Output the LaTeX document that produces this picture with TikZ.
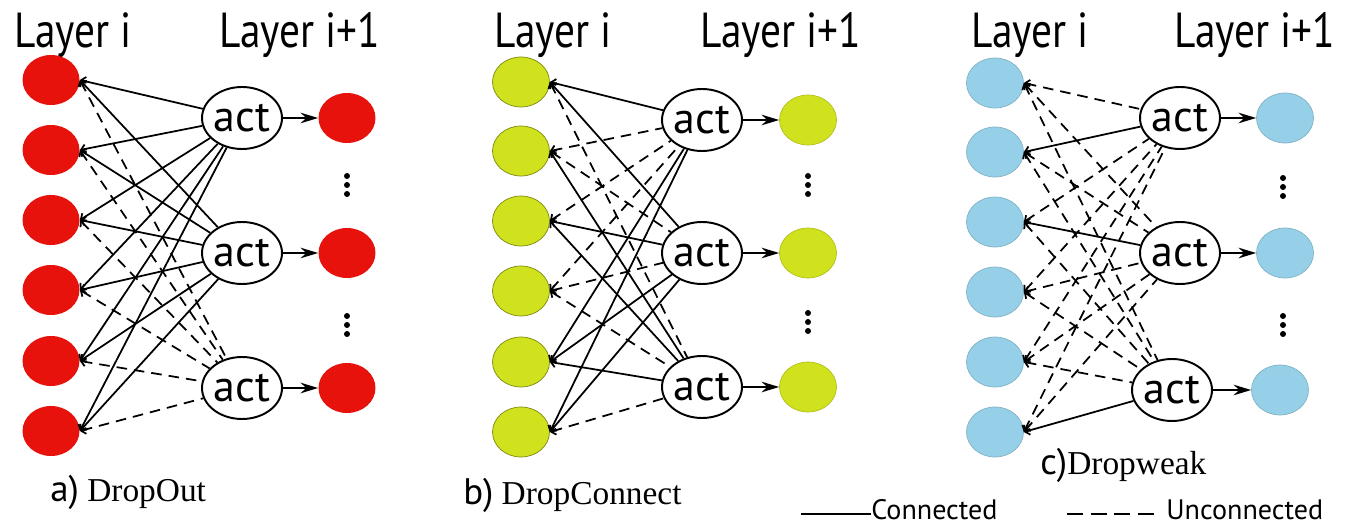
\documentclass[tikz,border=0pt]{standalone}
\usepackage{fontspec}
\setmainfont{Liberation Serif}
\setsansfont{PT Sans}
\newfontfamily\condsans[FakeStretch=0.84]{PT Sans}
\usepackage{xcolor}
\usepackage{tikz}
\usetikzlibrary{shapes.geometric,arrows.meta}

\definecolor{unitred}{RGB}{232,18,12}
\definecolor{unitlime}{RGB}{208,226,30}
\definecolor{unitblue}{RGB}{150,208,232}

\tikzset{
  unit/.style={ellipse, minimum width=1.14cm, minimum height=1.0cm, inner sep=0pt},
  actnode/.style={ellipse, draw, line width=1.1pt, fill=white, minimum width=1.6cm,
    minimum height=1.24cm, inner sep=0pt, font=\sffamily\fontsize{25}{25}\selectfont},
  con/.style={line width=1pt, {Straight Barb[length=2.5pt,width=5pt]}-},
  uncon/.style={con, dash pattern=on 6pt off 4pt},
  fwd/.style={line width=1.1pt, -{Stealth[length=10pt,width=6pt]}},
  layertext/.style={font=\condsans\fontsize{28}{28}\selectfont},
  captext/.style={anchor=west, inner sep=0pt, font=\fontsize{19}{19}\selectfont},
  legendtext/.style={anchor=base west, inner sep=0pt, font=\sffamily\fontsize{16}{16}\selectfont},
}
% three bold dots between output units
\newcommand{\dotcol}[2]{\foreach \d in {-9,0,9} \fill (#1,#2+\d) circle (1.7pt);}

\begin{document}
\begin{tikzpicture}[x=0.02cm, y=-0.02cm]
    \useasboundingbox (0,0) rectangle (1357,530);
    % a) dropout
    \begin{scope}
        \node[layertext] (alayer) at (73,35) {Layer i};
        \node[layertext] (alayernext) at (300,35) {Layer i+1};
        \foreach \k/\y in {1/80,2/150,3/220,4/290,5/361,6/431}
            \node[unit, fill=unitred] (ain\k) at (51,\y) {};
        \foreach \k/\y in {1/118,2/253,3/388} {
            \node[actnode] (aact\k) at (242,\y) {act};
            \node[unit, fill=unitred] (aout\k) at (347,\y) {};
            \draw[fwd] (aact\k) -- (aout\k);
        }
        \dotcol{347}{185}
        \dotcol{347}{325}
        % the third unit is dropped
        \foreach \k in {1,...,6} {
            \draw[con] (ain\k.east) -- (aact1);
            \draw[con] (ain\k.east) -- (aact2);
            \draw[uncon] (ain\k.east) -- (aact3);
        }
        \node[captext] (acap) at (50,492) {{\sffamily\fontsize{21}{21}\selectfont a)}\ DropOut};
    \end{scope}
    % b) dropconnect
    \begin{scope}
        \node[layertext] (blayer) at (553,35) {Layer i};
        \node[layertext] (blayernext) at (781,35) {Layer i+1};
        \foreach \k/\y in {1/82,2/151,3/221,4/291,5/362,6/432}
            \node[unit, fill=unitlime, draw=unitlime!60!black, line width=0.4pt] (bin\k) at (521,\y) {};
        \foreach \k/\y in {1/120,2/253,3/387} {
            \node[actnode] (bact\k) at (702,\y) {act};
            \node[unit, fill=unitlime, draw=unitlime!85!black, line width=0.4pt] (bout\k) at (808,\y) {};
            \draw[fwd] (bact\k) -- (bout\k);
        }
        \dotcol{808}{185}
        \dotcol{808}{322}
        \foreach \k/\j/\s in {1/1/con,1/2/con,1/3/uncon,2/1/uncon,2/2/uncon,2/3/con,
                3/1/uncon,3/2/con,3/3/con,4/1/uncon,4/2/uncon,4/3/uncon,
                5/1/con,5/2/con,5/3/con,6/1/con,6/2/con,6/3/uncon}
            \draw[\s] (bin\k.east) -- (bact\j);
        \node[captext] (bcap) at (463,495) {{\sffamily\fontsize{21}{21}\selectfont b)}\ DropConnect};
    \end{scope}
    % c) dropweak
    \begin{scope}
        \node[layertext] (clayer) at (1030,35) {Layer i};
        \node[layertext] (clayernext) at (1255,35) {Layer i+1};
        \foreach \k/\y in {1/83,2/152,3/222,4/292,5/362,6/432}
            \node[unit, fill=unitblue, draw=unitblue!85!black, line width=0.4pt] (cin\k) at (995,\y) {};
        \foreach \k/\x/\y/\u in {1/1180/118/1285,2/1180/253/1285,3/1172/390/1280} {
            \node[actnode] (cact\k) at (\x,\y) {act};
            \node[unit, fill=unitblue, draw=unitblue!85!black, line width=0.4pt] (cout\k) at (\u,\y) {};
            \draw[fwd] (cact\k) -- (cout\k);
        }
        \dotcol{1283}{187}
        \dotcol{1283}{325}
        \foreach \k/\j/\s in {1/1/uncon,1/2/uncon,1/3/uncon,2/1/con,2/2/uncon,2/3/uncon,
                3/1/uncon,3/2/con,3/3/uncon,4/1/uncon,4/2/uncon,4/3/uncon,
                5/1/uncon,5/2/uncon,5/3/uncon,6/1/uncon,6/2/uncon,6/3/con}
            \draw[\s] (cin\k.east) -- (cact\j);
        \node[captext] (ccap) at (1040,465) {{\sffamily\fontsize{21}{21}\selectfont c)}Dropweak};
    \end{scope}
    % legend
    \coordinate (conleft) at (801,514);
    \node[legendtext] (conlabel) at (871,520) {Connected};
    \draw[line width=1.6pt] (conleft) -- (conleft -| conlabel.west);
    \coordinate (unconleft) at (1067,514);
    \node[legendtext] (unconlabel) at (1166,520) {Unconnected};
    \draw[line width=1.6pt, dash pattern=on 9pt off 4.5pt] (unconleft) -- ([xshift=-3pt]unconleft -| unconlabel.west);
\end{tikzpicture}
\end{document}
